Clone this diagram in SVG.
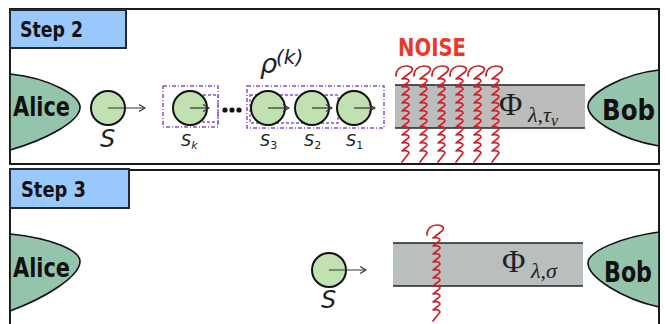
<svg xmlns="http://www.w3.org/2000/svg" width="665" height="324" viewBox="0 0 665 324">
<style>
.frame{fill:#fff;stroke:#1a1a1a;stroke-width:2}
.step{fill:#99c8fb;stroke:#1f2a36;stroke-width:2}
.hand{font-family:"DejaVu Sans Condensed","DejaVu Sans",sans-serif;font-weight:bold;fill:#111}
.party{fill:#95c4ad;stroke:#111;stroke-width:1.6}
.qb{fill:#c2e1b2;stroke:#111;stroke-width:2}
.arr{stroke:#333;stroke-width:1.2;fill:none}
.chan{stroke:#222;stroke-width:1.5}
.lbl{font-family:"DejaVu Sans","Liberation Sans",sans-serif;font-style:italic;fill:#222}
.math{font-family:"Liberation Serif","DejaVu Serif",serif;fill:#222}
.grp{fill:none;stroke:#8a50c4;stroke-width:1.5;stroke-dasharray:4 2 1 2}
.grp2{fill:none;stroke:#8a50c4;stroke-width:1.3;stroke-dasharray:3 2}
.noise{fill:none;stroke:#c8232a;stroke-width:1.7;stroke-linejoin:round;stroke-linecap:round}
</style>
<defs>
<marker id="ah" viewBox="0 0 8 8" refX="7" refY="4" markerWidth="8" markerHeight="8" markerUnits="userSpaceOnUse" orient="auto">
<path d="M1,0.5 L7,4 L1,7.5" fill="none" stroke="#333" stroke-width="1.2"/>
</marker>
<path id="sq" class="noise" d="M-8,10 C-8,3 -3,0 2,0 C8,0 10,3 7,6 L-2,13 c3,-1 7,0 7,2 c0,1 -6,5 -7,6 c3,-1 7,0 7,2 c0,1 -6,5 -7,6 c3,-1 7,0 7,2 c0,1 -6,5 -7,6 c3,-1 7,0 7,2 c0,1 -6,5 -7,6 c3,-1 7,0 7,2 c0,1 -6,5 -7,6 c3,-1 7,0 7,2 c0,1 -6,5 -7,6 c3,-1 7,0 7,2 c0,1 -6,5 -7,6 c3,-1 7,0 7,2 c0,1 -6,5 -7,6 c3,-1 7,0 7,2 c0,1 -6,5 -7,6 c3,-1 7,0 7,2 l-7,9"/>
</defs>

<!-- Step 2 panel -->
<g id="panel2">
<rect class="frame" x="10" y="9" width="649" height="155"/>
<rect class="step" x="10" y="10" width="116" height="38"/>
<text class="hand" x="20" y="37" font-size="21" textLength="63" lengthAdjust="spacingAndGlyphs">Step 2</text>
</g>

<!-- Step 3 panel -->
<g id="panel3">
<rect class="frame" x="10" y="170" width="649" height="160"/>
<rect class="step" x="10" y="169" width="119" height="39"/>
<text class="hand" x="21" y="197" font-size="22" textLength="65" lengthAdjust="spacingAndGlyphs">Step 3</text>
</g>

<!-- Step 2 contents -->
<g id="alice2">
<path class="party" d="M10,74 C50,78 81,96 80,108 C79,122 45,140 10,150 Z"/>
<text class="hand" x="13" y="116" font-size="27" textLength="57" lengthAdjust="spacingAndGlyphs">Alice</text>
</g>
<g id="bob2">
<path class="party" d="M659,70 C622,74 588,94 588,106 C588,120 622,140 659,146 Z"/>
<text class="hand" x="602" y="120" font-size="29" textLength="53" lengthAdjust="spacingAndGlyphs">Bob</text>
</g>
<g id="channel2">
<rect x="395" y="85" width="190" height="43" fill="#bcbcbc"/>
<line class="chan" x1="395" y1="85" x2="585" y2="85"/>
<line class="chan" x1="395" y1="128" x2="585" y2="128"/>
<text class="math" x="499" y="115" font-size="32">Φ</text>
<text class="math" x="528" y="122" font-size="22" font-style="italic">λ<tspan font-style="normal">,</tspan>τ<tspan font-size="16" dy="4">ν</tspan></text>
</g>
<g id="noise2">
<text x="398" y="56" font-family="'DejaVu Sans Condensed','DejaVu Sans',sans-serif" font-weight="bold" font-size="25" fill="#e8392d" textLength="68" lengthAdjust="spacingAndGlyphs">NOISE</text>
<use href="#sq" transform="translate(404,66)"/>
<use href="#sq" transform="translate(422,66)"/>
<use href="#sq" transform="translate(440,66)"/>
<use href="#sq" transform="translate(458,66)"/>
<use href="#sq" transform="translate(476,66)"/>
<use href="#sq" transform="translate(494,66)"/>
</g>
<g id="source2">
<circle class="qb" cx="108" cy="108" r="17"/>
<text class="lbl" x="100" y="147" font-size="24" font-style="normal">S</text>
</g>
<g id="rho">
<rect class="grp" x="163" y="86" width="55" height="41"/>
<rect class="grp2" x="203" y="95" width="15" height="27"/>
<rect class="grp" x="247" y="86" width="137" height="42"/>
<rect class="grp2" x="250" y="95" width="88" height="28"/>
<circle class="qb" cx="190" cy="108" r="17"/>
<circle class="qb" cx="268" cy="108" r="17"/>
<circle class="qb" cx="312" cy="108" r="17"/>
<circle class="qb" cx="354" cy="108" r="17"/>
<circle cx="225" cy="110" r="2.6" fill="#111"/>
<circle cx="232" cy="110" r="2.6" fill="#111"/>
<circle cx="239" cy="110" r="2.6" fill="#111"/>
<text class="lbl" x="260" y="73" font-size="27">ρ</text>
<text class="lbl" x="276" y="64" font-size="20" font-style="normal">(<tspan font-style="italic">k</tspan>)</text>
<text class="lbl" x="181" y="146" font-size="16">S<tspan font-size="11" dy="3">k</tspan></text>
<text class="lbl" x="260" y="146" font-size="16">S<tspan font-size="11" dy="3" font-style="normal">3</tspan></text>
<text class="lbl" x="304" y="146" font-size="16">S<tspan font-size="11" dy="3" font-style="normal">2</tspan></text>
<text class="lbl" x="346" y="146" font-size="16">S<tspan font-size="11" dy="3" font-style="normal">1</tspan></text>
</g>

<!-- Step 3 contents -->
<g id="alice3">
<path class="party" d="M10,234 C50,238 81,250 80,262 C79,277 45,298 10,311 Z"/>
<text class="hand" x="13" y="277" font-size="27" textLength="57" lengthAdjust="spacingAndGlyphs">Alice</text>
</g>
<g id="bob3">
<path class="party" d="M659,232 C622,237 588,251 588,263 C588,277 622,299 659,307 Z"/>
<text class="hand" x="604" y="282" font-size="29" textLength="48" lengthAdjust="spacingAndGlyphs">Bob</text>
</g>
<g id="channel3">
<rect x="393" y="243" width="190" height="43" fill="#b9bebe"/>
<line class="chan" x1="393" y1="243" x2="583" y2="243"/>
<line class="chan" x1="393" y1="286" x2="583" y2="286"/>
<text class="math" x="502" y="272" font-size="32">Φ</text>
<text class="math" x="531" y="278" font-size="22" font-style="italic">λ<tspan font-style="normal">,</tspan>σ</text>
</g>
<g id="noise3">
<use href="#sq" transform="translate(435,225)"/>
</g>
<g id="source3">
<circle class="qb" cx="329" cy="270" r="17"/>
<text class="lbl" x="321" y="308" font-size="24" font-style="normal">S</text>
</g>

<!-- connectors -->
<g id="connectors">
<line class="arr" x1="108" y1="108" x2="145" y2="108" marker-end="url(#ah)"/>
<line class="arr" x1="190" y1="108" x2="209" y2="108" marker-end="url(#ah)"/>
<line class="arr" x1="268" y1="108" x2="289" y2="108" marker-end="url(#ah)"/>
<line class="arr" x1="312" y1="108" x2="332" y2="108" marker-end="url(#ah)"/>
<line class="arr" x1="354" y1="108" x2="375" y2="108" marker-end="url(#ah)"/>
<line class="arr" x1="329" y1="270" x2="366" y2="270" marker-end="url(#ah)"/>
</g>
</svg>
